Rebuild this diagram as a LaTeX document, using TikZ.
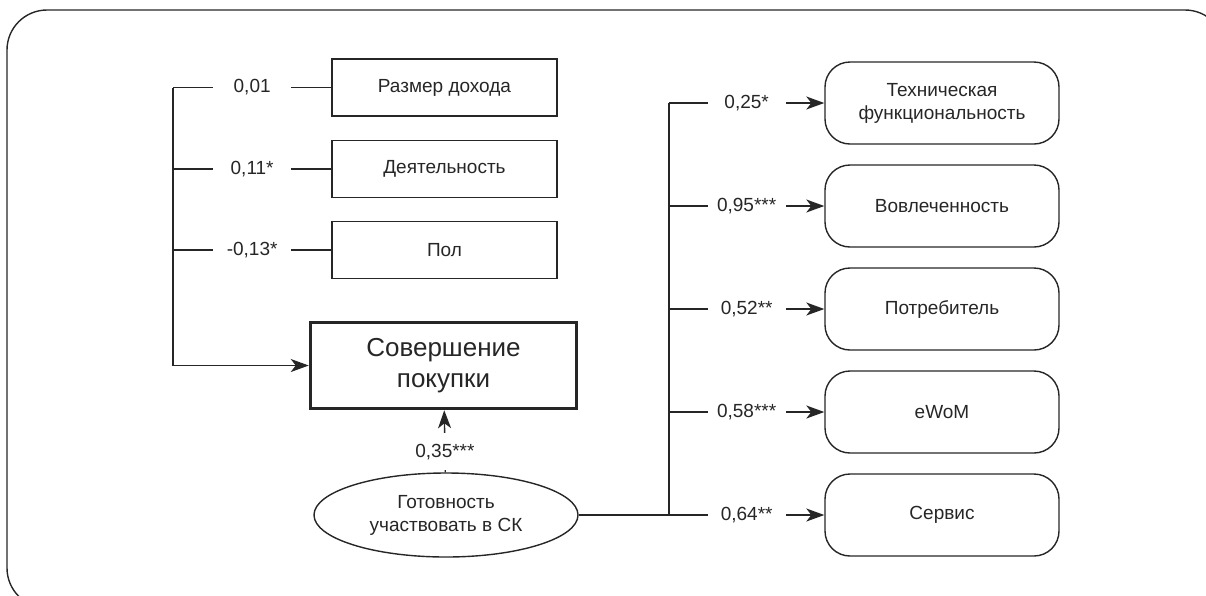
\documentclass[tikz,border=0pt]{standalone}
\usepackage{fontspec}
\setmainfont{Liberation Sans}
\usetikzlibrary{shapes.geometric,arrows.meta}

\begin{document}
\begin{tikzpicture}[x=1pt, y=-1pt,
                    color=black!85,
                    line width=1.4pt,
                    font=\fontsize{19}{23}\selectfont]
    \tikzstyle{factor}=[rectangle,draw,minimum width=225pt,minimum height=57pt,inner sep=2pt]
    \tikzstyle{target}=[factor,line width=3.5pt,minimum width=266pt,minimum height=86pt,align=center,font=\fontsize{26}{31}\selectfont]
    \tikzstyle{latent}=[ellipse,draw,minimum width=264pt,minimum height=84pt,inner sep=0pt,align=center]
    \tikzstyle{outcome}=[rectangle,draw,rounded corners=25pt,minimum width=234pt,minimum height=82pt,align=center]
    \tikzstyle{coef}=[fill=white,minimum width=78pt,inner sep=1pt]
    \tikzstyle{coefup}=[coef,minimum width=0pt,minimum height=37pt]
    \tikzstyle{path}=[-{Stealth[length=18pt,width=13pt,inset=5pt]}]

    \useasboundingbox (0,0) rectangle (1206,595);
    \begin{scope}
        \clip (0,0) rectangle (1206,595);
        \draw[rounded corners=40pt] (7,10) rectangle (1225,608);
    \end{scope}

    \node[factor] (income) at (444.5,87.5) {Размер дохода};
    \node[factor] (activity) at (444.5,169) {Деятельность};
    \node[factor] (gender) at (444.5,250) {Пол};
    \node[target] (purchase) at (443.5,365.5) {Совершение\\покупки};
    \node[latent] (ready) at (446,515) {Готовность\\участвовать в СК};

    \node[outcome] (tech) at (942,103) {Техническая\\функциональность};
    \node[outcome] (involve) at (942,206) {Вовлеченность};
    \node[outcome] (consumer) at (942,309) {Потребитель};
    \node[outcome] (ewom) at (942,412) {eWoM};
    \node[outcome] (service) at (942,515) {Сервис};

    \coordinate (l1) at (173,87.5);
    \coordinate (l2) at (173,169);
    \coordinate (l3) at (173,250);
    \coordinate (r1) at (669,103);
    \coordinate (r2) at (669,206);
    \coordinate (r3) at (669,309);
    \coordinate (r4) at (669,412);
    \coordinate (r5) at (669,515);

    \draw (l1) -- node[coef] {0,01} (income);
    \draw (l2) -- node[coef] {0,11*} (activity);
    \draw (l3) -- node[coef] {-0,13*} (gender);
    \draw[path] (l1) |- (purchase);
    \draw[path] (ready) -- node[coefup,pos=0.33] {0,35***} (purchase);

    \draw (ready) -- (r5);
    \draw (r1) -- (r5);
    \draw[path] (r1) -- node[coef] {0,25*} (tech);
    \draw[path] (r2) -- node[coef] {0,95***} (involve);
    \draw[path] (r3) -- node[coef] {0,52**} (consumer);
    \draw[path] (r4) -- node[coef] {0,58***} (ewom);
    \draw[path] (r5) -- node[coef] {0,64**} (service);
\end{tikzpicture}
\end{document}
